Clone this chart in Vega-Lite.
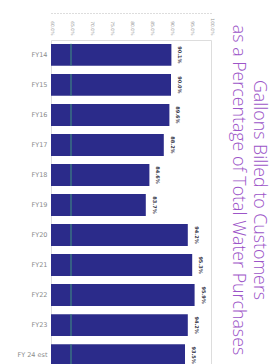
{
  "$schema": "https://vega.github.io/schema/vega-lite/v6.json",
  "autosize": "none",
  "padding": {"left": 51, "top": 40, "right": 62, "bottom": 0},
  "width": 160,
  "height": 330,
  "background": "white",
  "title": {
    "text": ["Gallons Billed to Customers", "as a Percentage of Total Water Purchases"],
    "orient": "right",
    "anchor": "middle",
    "frame": "group",
    "font": "Open Sans",
    "fontSize": 17.8,
    "fontWeight": 300,
    "color": "#9c55c8",
    "lineHeight": 21,
    "offset": 15,
    "dx": -15
  },
  "config": {
    "axisX": {
      "title": null,
      "orient": "top",
      "format": ".1%",
      "labelOverlap": false,
      "labelBound": false,
      "labelFlush": false,
      "grid": false,
      "ticks": false,
      "offset": 27,
      "domain": true,
      "domainColor": "#bbbbbb",
      "domainDash": [1, 2],
      "domainWidth": 1,
      "labelAngle": 90,
      "labelAlign": "right",
      "labelBaseline": "middle",
      "labelPadding": -22,
      "labelFont": "DejaVu Sans",
      "labelFontSize": 4.5,
      "labelColor": "#999999"
    }
  },
  "data": {
    "values": [
      {"fy": "FY14", "pct": 0.901},
      {"fy": "FY15", "pct": 0.900},
      {"fy": "FY16", "pct": 0.896},
      {"fy": "FY17", "pct": 0.882},
      {"fy": "FY18", "pct": 0.846},
      {"fy": "FY19", "pct": 0.837},
      {"fy": "FY20", "pct": 0.942},
      {"fy": "FY21", "pct": 0.953},
      {"fy": "FY22", "pct": 0.959},
      {"fy": "FY23", "pct": 0.942},
      {"fy": "FY 24 est", "pct": 0.935}
    ]
  },
  "encoding": {
    "y": {
      "field": "fy",
      "type": "nominal",
      "sort": null,
      "scale": {"paddingInner": 0.27, "paddingOuter": 0.13},
      "axis": {
        "title": null,
        "domain": false,
        "ticks": false,
        "labelFont": "DejaVu Sans",
        "labelFontSize": 6.5,
        "labelColor": "#8a8a8a",
        "labelPadding": 4
      }
    }
  },
  "layer": [
    {
      "mark": {"type": "bar", "color": "#2b2b8a", "clip": true},
      "encoding": {
        "x": {
          "field": "pct",
          "type": "quantitative",
          "scale": {"domain": [0.6, 1.0], "zero": false, "nice": false},
          "axis": {"orient": "top", "format": ".1%", "values": [0.6, 0.65, 0.7, 0.75, 0.8, 0.85, 0.9, 0.95, 1.0]}
        }
      }
    },
    {
      "mark": {"type": "tick", "color": "#3f8f80", "thickness": 1.5, "size": 22},
      "encoding": {
        "x": {"datum": 0.65, "type": "quantitative", "axis": {"orient": "top", "format": ".1%", "values": [0.6, 0.65, 0.7, 0.75, 0.8, 0.85, 0.9, 0.95, 1.0]}}
      }
    },
    {
      "mark": {
        "type": "text",
        "angle": 90,
        "align": "center",
        "baseline": "middle",
        "dy": -9,
        "font": "DejaVu Sans",
        "fontSize": 5,
        "fontWeight": "bold",
        "color": "#333344"
      },
      "encoding": {
        "x": {"field": "pct", "type": "quantitative", "axis": {"orient": "top", "format": ".1%", "values": [0.6, 0.65, 0.7, 0.75, 0.8, 0.85, 0.9, 0.95, 1.0]}},
        "text": {"field": "pct", "type": "quantitative", "format": ".1%"}
      }
    }
  ]
}
